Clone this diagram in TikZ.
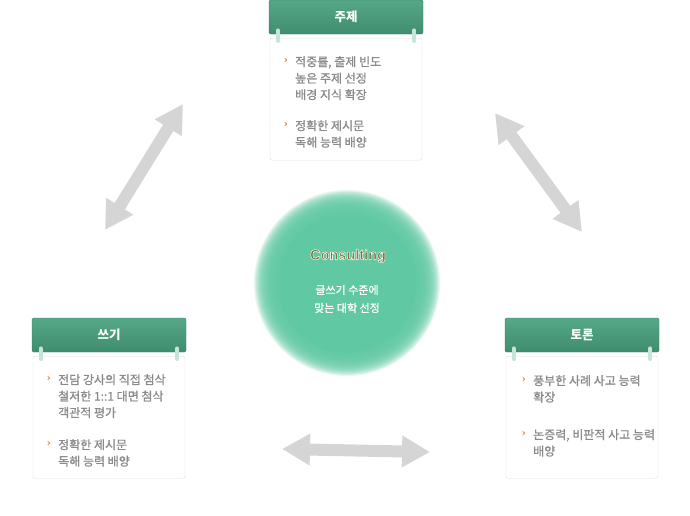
\documentclass[tikz,border=0pt]{standalone}
\usepackage{fontspec}
\setmainfont{Noto Sans CJK KR}
\newfontfamily\bodyfont[FakeBold=1]{Noto Sans CJK KR}
\newfontfamily\latinfont{Liberation Sans}
\newfontfamily\symfont{DejaVu Sans}
\usetikzlibrary{arrows.meta}

\definecolor{hdtop}{HTML}{55A888}
\definecolor{hdbot}{HTML}{3F8D6E}
\definecolor{hdline}{HTML}{3A7F63}
\definecolor{bodyline}{HTML}{DDDDDD}
\definecolor{pegcol}{HTML}{C6E4D8}
\definecolor{txtgray}{HTML}{8A8A8A}
\definecolor{bulletcol}{HTML}{E08A2A}
\definecolor{ccgreen}{HTML}{60C8A2}
\definecolor{olivetxt}{HTML}{7A6F3E}
\definecolor{arrowgray}{HTML}{D5D5D5}

% white rim round the glyphs (fill and stroke)
\newcommand{\rimtext}[1]{\special{pdf:literal direct 2 Tr 0.95 0.97 0.93 RG 0.55 w}#1\special{pdf:literal direct 0 Tr 0.4 w}}

\tikzset{
  head/.style={draw=hdline, top color=hdtop, bottom color=hdbot, rounded corners=1.5,
    minimum width=154, minimum height=34, text=white,
    font=\bfseries\fontsize{12.5}{14}\selectfont},
  body/.style={draw=bodyline, fill=white, rounded corners=2, minimum width=152,
    minimum height=122, anchor=north},
  peg/.style={draw=pegcol, line width=3.5, line cap=round},
  bul/.style={text=bulletcol, inner sep=0, font=\symfont\bfseries\fontsize{10}{10}\selectfont},
  txt/.style={text=txtgray, inner sep=0, anchor=north west, align=left,
    font=\bodyfont\fontsize{12}{16.5}\selectfont},
  bigarrow/.style={draw=arrowgray, line width=12,
    {Triangle[length=28pt, width=30pt]}-{Triangle[length=28pt, width=30pt]}}
}

\begin{document}
\begin{tikzpicture}[x=1pt, y=-1pt]
\useasboundingbox (0,0) rectangle (690,515);

% arrows
\coordinate (la1) at (105,230);
\coordinate (la2) at (183,104);
\coordinate (ra1) at (495,113);
\coordinate (ra2) at (582,232);
\coordinate (ba1) at (282,449);
\coordinate (ba2) at (430,452);
\draw[bigarrow] (la1) -- (la2);
\draw[bigarrow] (ra1) -- (ra2);
\draw[bigarrow] (ba1) -- (ba2);

% centre circle
\coordinate (cc) at (347,283);
\fill[ccgreen] (cc) circle (70);
\foreach \r in {70,...,93}
  \fill[ccgreen, opacity=0.15] (cc) circle (\r);
\node[text=olivetxt, font=\latinfont\bfseries\fontsize{14.5}{15}\selectfont] (ctitle) at (348,256) {\rimtext{Consulting}};
\node[text=white, align=center, font=\bodyfont\fontsize{11}{18}\selectfont] (ctext) at (347,299) {글쓰기 수준에\\맞는 대학 선정};

% top card
\node[body] (jb) at (346,38) {};
\node[head] (jh) at (346,17) {주제};
\draw[peg] ([shift={(9,-4)}]jh.south west) -- ++(0,11);
\draw[peg] ([shift={(-9,-4)}]jh.south east) -- ++(0,11);
\node[bul] (jb1) at (286,61) {›};
\node[txt] (jt1) at (295,56) {적중률, 출제 빈도\\높은 주제 선정\\배경 지식 확장};
\node[bul] (jb2) at (286,125) {›};
\node[txt] (jt2) at (295,120) {정확한 제시문\\독해 능력 배양};

% left card
\node[body] (sb) at (109,356) {};
\node[head] (sh) at (109,335) {쓰기};
\draw[peg] ([shift={(9,-4)}]sh.south west) -- ++(0,11);
\draw[peg] ([shift={(-9,-4)}]sh.south east) -- ++(0,11);
\node[bul] (sb1) at (49,379) {›};
\node[txt] (st1) at (58,374) {전담 강사의 직접 첨삭\\철저한 1::1 대면 첨삭\\객관적 평가};
\node[bul] (sb2) at (49,444) {›};
\node[txt] (st2) at (58,439) {정확한 제시문\\독해 능력 배양};

% right card
\node[body] (tb) at (582,356) {};
\node[head] (th) at (582,335) {토론};
\draw[peg] ([shift={(9,-4)}]th.south west) -- ++(0,11);
\draw[peg] ([shift={(-9,-4)}]th.south east) -- ++(0,11);
\node[bul] (tb1) at (524,380) {›};
\node[txt] (tt1) at (533,375) {풍부한 사례 사고 능력\\확장};
\node[bul] (tb2) at (524,434) {›};
\node[txt] (tt2) at (533,429) {논증력, 비판적 사고 능력\\배양};
\end{tikzpicture}
\end{document}
